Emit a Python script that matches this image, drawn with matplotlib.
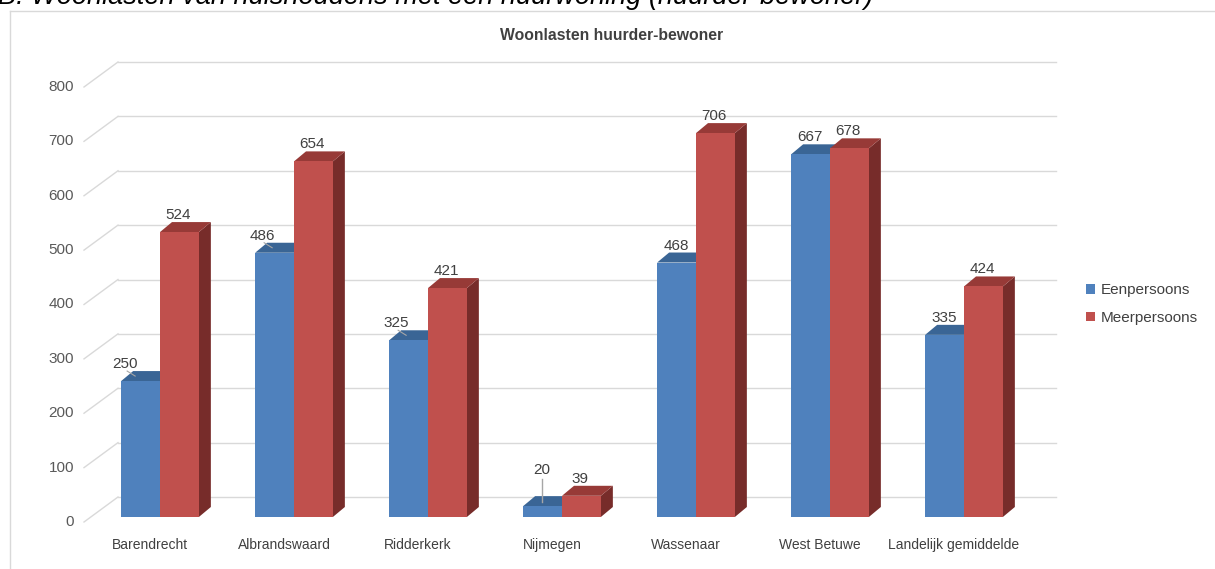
import matplotlib
matplotlib.use('Agg')
import matplotlib.pyplot as plt
from matplotlib.patches import Polygon, Patch
from matplotlib.lines import Line2D

plt.rcParams['font.family'] = ['Liberation Sans', 'DejaVu Sans']

categories = ['Barendrecht', 'Albrandswaard', 'Ridderkerk', 'Nijmegen',
              'Wassenaar', 'West Betuwe', 'Landelijk gemiddelde']
eenpersoons = [250, 486, 325, 20, 468, 667, 335]
meerpersoons = [524, 654, 421, 39, 706, 678, 424]
yticks = [0, 100, 200, 300, 400, 500, 600, 700, 800]

W, H = 1215, 569
fig = plt.figure(figsize=(W / 100, H / 100), dpi=100)

# back wall of the 3d plot: x 118..1056 px, value 0 at 497 px, 800 at 62 px
left, right, y0, y800 = 118, 1056, 497, 62
ax = fig.add_axes([left / W, 1 - y0 / H, (right - left) / W, (y0 - y800) / H])
ax.set_xlim(0, 7)
ax.set_ylim(0, 800)
ax.axis('off')

px_x = (right - left) / 7.0      # pixels per category
px_y = (y0 - y800) / 800.0       # pixels per unit

def dx(p):
    return p / px_x

def dy(p):
    return p / px_y

grid_c = '#d9d9d9'
# gridlines on back wall + diagonal on the floor side
for v in yticks:
    ax.plot([0, 7], [v, v], color=grid_c, lw=1.0, clip_on=False, zorder=1)
    ax.plot([0, dx(-34)], [v, v - dy(25)], color=grid_c, lw=1.0, clip_on=False, zorder=1)
    ax.text(dx(-34) - dx(10), v - dy(25), str(v), ha='right', va='center',
            fontsize=11, color='#595959')

# bar geometry
w = 0.29
fx, fy = dx(-25), -dy(20)     # front face offset from back wall
ddx, ddy = dx(12), dy(10)     # depth of the bar

def bar3d(x0, val, front, top, side):
    xa, xb = x0 + fx, x0 + w + fx
    ya, yb = fy, val + fy
    ax.add_patch(Polygon([(xb, ya), (xb + ddx, ya + ddy), (xb + ddx, yb + ddy), (xb, yb)],
                         closed=True, fc=side, ec='none', clip_on=False, zorder=3))
    ax.add_patch(Polygon([(xa, yb), (xb, yb), (xb + ddx, yb + ddy), (xa + ddx, yb + ddy)],
                         closed=True, fc=top, ec='none', clip_on=False, zorder=3))
    ax.add_patch(Polygon([(xa, ya), (xb, ya), (xb, yb), (xa, yb)],
                         closed=True, fc=front, ec='none', clip_on=False, zorder=3))

blue = ('#4f81bd', '#3a6595', '#34598a')
red = ('#c0504d', '#973a37', '#772c2a')
blue_lab_dx = [4, 7, 7, 19, 19, 19, 19]
leader = [True, True, True, False, False, False, False]

for i, cat in enumerate(categories):
    c = i + 0.5
    bar3d(c - w, eenpersoons[i], *blue)
    bar3d(c, meerpersoons[i], *red)

    # blue label
    bx = c - w + fx + dx(blue_lab_dx[i])
    by = eenpersoons[i] + fy + dy(17)
    if eenpersoons[i] < 50:
        by += dy(19)
        ax.plot([bx, bx], [by - dy(9), eenpersoons[i] + fy + dy(4)], color='#a6a6a6',
                lw=1, clip_on=False, zorder=4)
    elif leader[i]:
        ax.plot([bx + dx(2), bx + dx(10)], [by - dy(7), by - dy(12)], color='#a6a6a6',
                lw=0.8, clip_on=False, zorder=4)
    ax.text(bx, by, str(eenpersoons[i]), ha='center', va='center', fontsize=11,
            color='#404040', zorder=5)
    # red label
    rx = c + w / 2 + fx - dx(1)
    ry = meerpersoons[i] + fy + dy(17)
    ax.text(rx, ry, str(meerpersoons[i]), ha='center', va='center', fontsize=11,
            color='#404040', zorder=5)

    ax.text(c + fx - dx(10), -dy(48), cat, ha='center', va='center', fontsize=10,
            color='#404040')

# chart frame
fig.add_artist(Line2D([10 / W, 1], [1 - 11 / H, 1 - 11 / H], color=grid_c, lw=1))
fig.add_artist(Line2D([10 / W, 10 / W], [1 - 11 / H, 0], color=grid_c, lw=1))

fig.text(612 / W, 1 - 35 / H, 'Woonlasten huurder-bewoner', ha='center', va='center',
         fontsize=11.3, fontweight='bold', color='#404040')

fig.text(-2 / W, 1 - 4 / H, 'B. Woonlasten van huishoudens met een huurwoning (huurder-bewoner)',
         ha='left', va='baseline', fontsize=19.5, style='italic', color='#000000')

handles = [Patch(fc=blue[0], label='Eenpersoons'), Patch(fc=red[0], label='Meerpersoons')]
fig.legend(handles=handles, loc='center left', bbox_to_anchor=(1072 / W, 1 - 304 / H),
           frameon=False, fontsize=11, handlelength=0.6, handleheight=0.6,
           handletextpad=0.4, labelspacing=0.9, labelcolor='#404040')

fig.savefig('out.png', dpi=100)
